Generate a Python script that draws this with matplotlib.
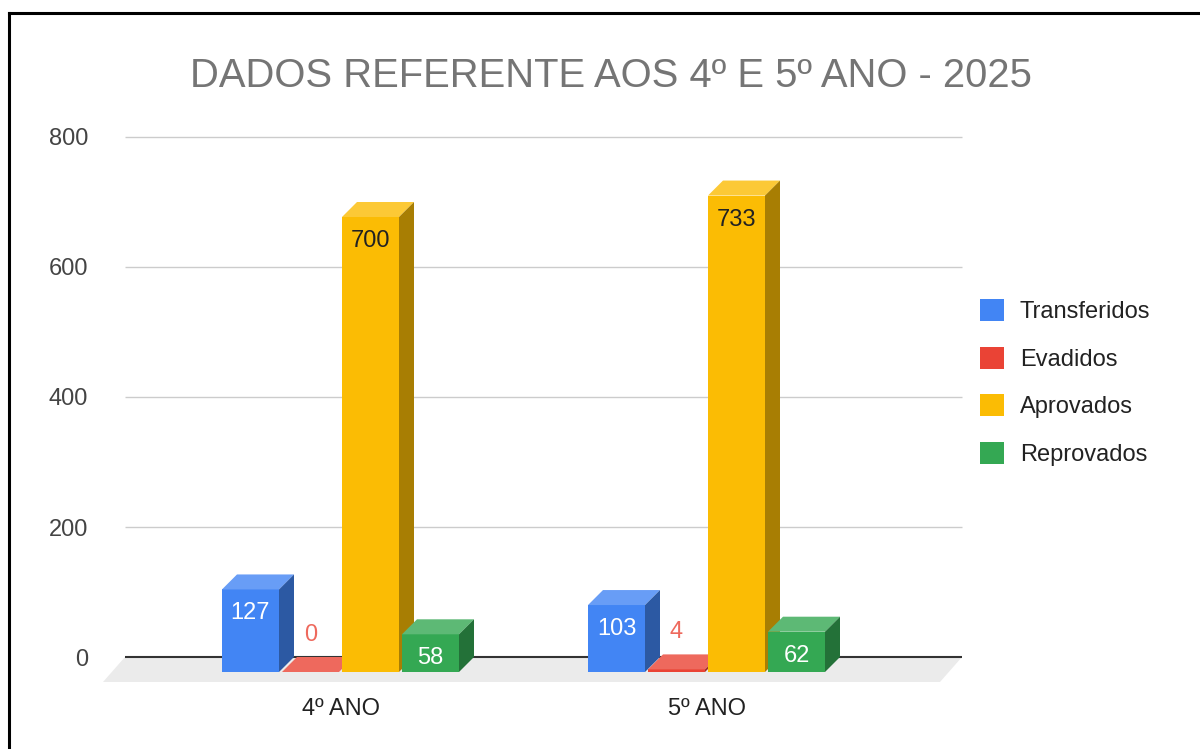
import numpy as np
import matplotlib.pyplot as plt
from matplotlib.patches import Polygon, Patch
from matplotlib.lines import Line2D
from matplotlib.colors import to_rgb

plt.rcParams['font.family'] = ['Liberation Sans', 'DejaVu Sans']

categories = ['4º ANO', '5º ANO']
series = ['Transferidos', 'Evadidos', 'Aprovados', 'Reprovados']
transferidos = [127, 103]
evadidos = [0, 4]
aprovados = [700, 733]
reprovados = [58, 62]
values = [transferidos, evadidos, aprovados, reprovados]
colors = ['#4285F4', '#EA4335', '#FBBC04', '#34A853']
label_colors = ['white', '#EE675C', '#222222', 'white']
yticks = [0, 200, 400, 600, 800]

W, H = 1200, 749
fig = plt.figure(figsize=(W / 100, H / 100), dpi=100)

# pixel layout helpers
cat_px = 340.5      # pixel centre of first group
cat_step = 366.0    # pixels between groups
y0_px = 657.0       # pixel row of value 0
ppu = 0.65          # pixels per unit in y
ax_l, ax_r, ax_t, ax_b = 95, 965, 115, 692
ax = fig.add_axes([ax_l / W, 1 - ax_b / H, (ax_r - ax_l) / W, (ax_b - ax_t) / H])
ax.set_xlim((ax_l - cat_px) / cat_step, (ax_r - cat_px) / cat_step)
ax.set_ylim((y0_px - ax_b) / ppu, (y0_px - ax_t) / ppu)

def xu(px):
    return px / cat_step

dxu = xu(15)          # depth shift in x
dyu = 15 / ppu        # depth shift in y
bw = xu(57)
step = xu(60)
gx0 = (125 - cat_px) / cat_step
gx1 = (962 - cat_px) / cat_step

def mix(c, f):
    r = np.array(to_rgb(c))
    return tuple(r * f) if f < 1 else tuple(r * 0.8 + 0.2)

# floor
floor = Polygon([(gx0, 0), (gx1, 0), (gx1 - xu(22), -25 / ppu), (gx0 - xu(22), -25 / ppu)],
                closed=True, facecolor='#ebebeb', edgecolor='none', zorder=1)
ax.add_patch(floor)
ax.hlines(yticks[1:], gx0, gx1, color='#cccccc', lw=1, zorder=2)
ax.hlines(0, gx0, gx1, color='#333333', lw=1.5, zorder=2)

x = np.arange(len(categories))
for ci in range(len(categories)):
    for si in range(len(series)):
        v = values[si][ci]
        xc = x[ci] + (si - 1.5) * step
        x0, x1 = xc - bw / 2, xc + bw / 2
        z = 3 + ci * 10 + si
        ax.bar(xc, v, width=bw, bottom=-dyu, color=colors[si], linewidth=0, zorder=z)
        ax.add_patch(Polygon([(x0, v - dyu), (x0 + dxu, v), (x1 + dxu, v), (x1, v - dyu)],
                             closed=True, facecolor=mix(colors[si], 2), edgecolor='none', zorder=z))
        ax.add_patch(Polygon([(x1, -dyu), (x1 + dxu, 0), (x1 + dxu, v), (x1, v - dyu)],
                             closed=True, facecolor=mix(colors[si], 0.67), edgecolor='none', zorder=z))
        inside = v * ppu > 30
        off = -24 if inside else 37
        ax.annotate(str(v), (xc, v - dyu), xytext=(0, off * 0.72), textcoords='offset points',
                    ha='center', va='center', fontsize=17,
                    color=label_colors[si] if inside else mix(colors[si], 2), zorder=z + 0.5)

ax.set_yticks(yticks)
ax.set_yticklabels([str(t) for t in yticks])
ax.set_xticks(x)
ax.set_xticklabels(categories)
ax.tick_params(axis='y', length=0, pad=5, labelsize=17, labelcolor='#444444')
ax.tick_params(axis='x', length=0, pad=4, labelsize=17, labelcolor='#222222')
for s in ax.spines.values():
    s.set_visible(False)
ax.patch.set_alpha(0)

fig.text(611 / W, 1 - 76 / H, 'DADOS REFERENTE AOS 4º E 5º ANO - 2025',
         ha='center', va='center', fontsize=28.8, color='#757575')

handles = [Patch(facecolor=c, edgecolor='none') for c in colors]
fig.legend(handles, series, loc='upper left', bbox_to_anchor=(980 / W, 1 - 299 / H),
           frameon=False, fontsize=17, handlelength=1.0, handleheight=1.05,
           handletextpad=0.68, labelspacing=1.0, borderpad=0, borderaxespad=0,
           labelcolor='#222222')

# outer frame (only top and left visible)
fig.add_artist(Line2D([9 / W, 9 / W], [1 - 13 / H, 0], transform=fig.transFigure, color='black', lw=2.2))
fig.add_artist(Line2D([9 / W, 1], [1 - 13 / H, 1 - 13 / H], transform=fig.transFigure, color='black', lw=2.2))

fig.savefig('out.png', dpi=100)
